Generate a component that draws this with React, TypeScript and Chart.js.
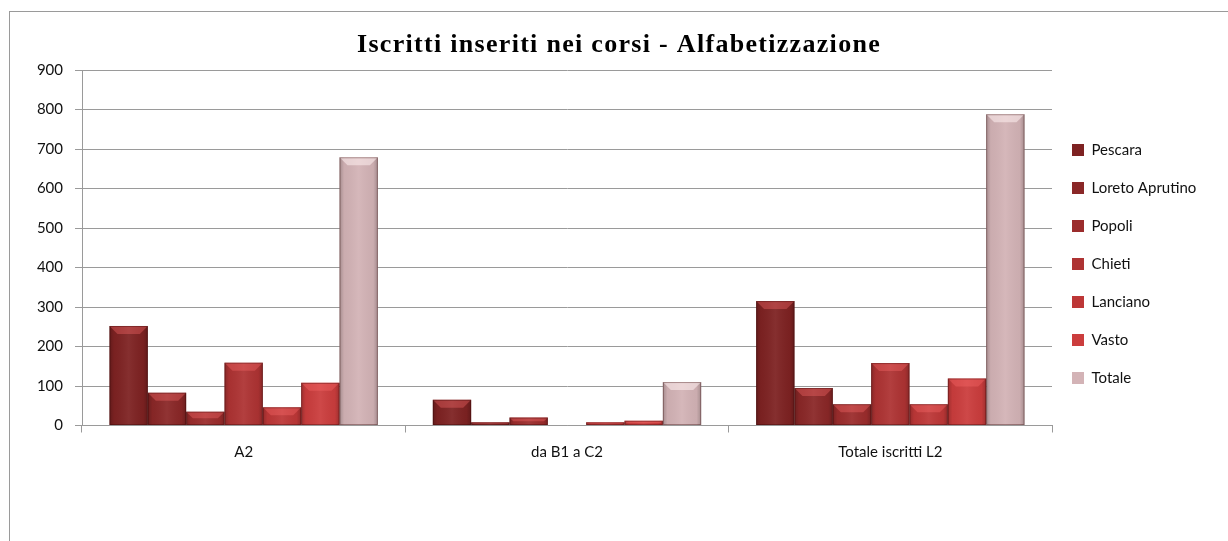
import React, { useEffect, useRef } from "react";
import { Chart, registerables } from "chart.js";

Chart.register(...registerables);

const categories = ["A2", "da B1 a C2", "Totale iscritti L2"];
const seriesNames = ["Pescara", "Loreto Aprutino", "Popoli", "Chieti", "Lanciano", "Vasto", "Totale"];
const pescara = [252, 65, 315];
const loretoAprutino = [83, 8, 95];
const popoli = [35, 20, 54];
const chieti = [159, 0, 158];
const lanciano = [46, 8, 54];
const vasto = [108, 12, 119];
const totale = [679, 110, 788];
const yMin = 0;
const yMax = 900;
const yStep = 100;

const seriesValues = [pescara, loretoAprutino, popoli, chieti, lanciano, vasto, totale];
const seriesColors = ["#7e2222", "#8a2727", "#9b2c2c", "#ae3333", "#bd3737", "#cb3d3d", "#d3b3b6"];

const TICK_FONT = { family: "Lato, 'Open Sans', sans-serif", size: 15 };

const bevelPlugin = {
  id: "bevel",
  afterDatasetsDraw(chart: any) {
    const ctx = chart.ctx;
    ctx.save();
    chart.data.datasets.forEach((_ds: any, di: number) => {
      const meta = chart.getDatasetMeta(di);
      if (meta.hidden) return;
      meta.data.forEach((bar: any) => {
        const { x, y, base, width } = bar.getProps(["x", "y", "base", "width"], true);
        const left = x - width / 2;
        const right = x + width / 2;
        const top = Math.min(y, base);
        const bottom = Math.max(y, base);
        const h = bottom - top;
        if (h < 0.5) return;
        const g = ctx.createLinearGradient(left, 0, right, 0);
        g.addColorStop(0, "rgba(0,0,0,0.22)");
        g.addColorStop(0.12, "rgba(0,0,0,0.04)");
        g.addColorStop(0.5, "rgba(255,255,255,0.06)");
        g.addColorStop(0.88, "rgba(0,0,0,0.04)");
        g.addColorStop(1, "rgba(0,0,0,0.22)");
        ctx.fillStyle = g;
        ctx.fillRect(left, top, width, h);
        const b = Math.min(8, h / 2, width / 2);
        ctx.beginPath();
        ctx.moveTo(left, top);
        ctx.lineTo(right, top);
        ctx.lineTo(right - b, top + b);
        ctx.lineTo(left + b, top + b);
        ctx.closePath();
        ctx.fillStyle = di === 6 ? "rgba(255,240,240,0.55)" : "rgba(255,110,110,0.35)";
        ctx.fill();
        ctx.strokeStyle = "rgba(50,0,0,0.35)";
        ctx.lineWidth = 1;
        ctx.strokeRect(left + 0.5, top + 0.5, width - 1, h - 1);
      });
    });
    ctx.restore();
  },
};

const layoutTweaksPlugin = {
  id: "layoutTweaks",
  beforeInit(chart: any) {
    const legend = chart.legend;
    if (legend) {
      const origFit = legend.fit;
      legend.fit = function () {
        origFit.call(this);
        this.width = 176;
      };
    }
    const title = chart.titleBlock;
    if (title) {
      const origDraw = title.draw;
      title.draw = function (...args: any[]) {
        const ctx = this.ctx;
        const prev = ctx.letterSpacing;
        ctx.letterSpacing = "1.3px";
        origDraw.apply(this, args);
        ctx.letterSpacing = prev || "0px";
      };
    }
  },
  afterLayout(chart: any) {
    const l = chart.legend;
    if (!l) return;
    l.left = 1039;
    l.right = l.left + 176;
    l.top = 84;
    l.bottom = 420;
    l.height = l.bottom - l.top;
  },
};

export default function App() {
  const ref = useRef<HTMLCanvasElement | null>(null);

  useEffect(() => {
    if (!ref.current) return;
    const chart = new Chart(ref.current, {
      type: "bar",
      data: {
        labels: categories,
        datasets: seriesNames.map((name, i) => ({
          label: name,
          data: seriesValues[i],
          backgroundColor: seriesColors[i],
          borderWidth: 0,
          categoryPercentage: 0.83,
          barPercentage: 1,
        })),
      },
      options: {
        responsive: false,
        animation: false,
        layout: { padding: { left: 0, right: 0, top: 0, bottom: 68.5 } },
        plugins: {
          title: {
            display: true,
            text: "Iscritti inseriti nei corsi - Alfabetizzazione",
            color: "#000",
            font: { family: "'Liberation Serif', 'Times New Roman', serif", size: 26, weight: "bold", lineHeight: 1.2 },
            padding: { top: 18, bottom: 8.8 },
          },
          legend: {
            position: "right",
            align: "center",
            labels: {
              boxWidth: 12,
              boxHeight: 12,
              padding: 23,
              color: "#111",
              font: TICK_FONT,
            },
          },
          tooltip: { enabled: false },
        },
        scales: {
          x: {
            offset: true,
            grid: {
              display: true,
              drawOnChartArea: false,
              drawTicks: true,
              tickLength: 7,
              color: "#9a9a9a",
              offset: true,
            },
            border: { color: "#9a9a9a" },
            ticks: { color: "#111", font: TICK_FONT, padding: 11 },
          },
          y: {
            min: yMin,
            max: yMax,
            ticks: { stepSize: yStep, color: "#111", font: TICK_FONT, padding: 12 },
            grid: { color: "#9a9a9a", tickLength: 7, drawTicks: true },
            border: { color: "#9a9a9a" },
            afterFit: (scale: any) => {
              scale.width = 72;
            },
          },
        },
      },
      plugins: [bevelPlugin, layoutTweaksPlugin],
    });
    return () => chart.destroy();
  }, []);

  return (
    <div
      style={{
        position: "fixed",
        left: 9,
        top: 11,
        width: 1220,
        height: 531,
        borderTop: "1px solid #9a9a9a",
        borderLeft: "1px solid #9a9a9a",
        background: "#fff",
        boxSizing: "border-box",
      }}
    >
      <canvas ref={ref} width={1218} height={529} style={{ display: "block" }} />
    </div>
  );
}
